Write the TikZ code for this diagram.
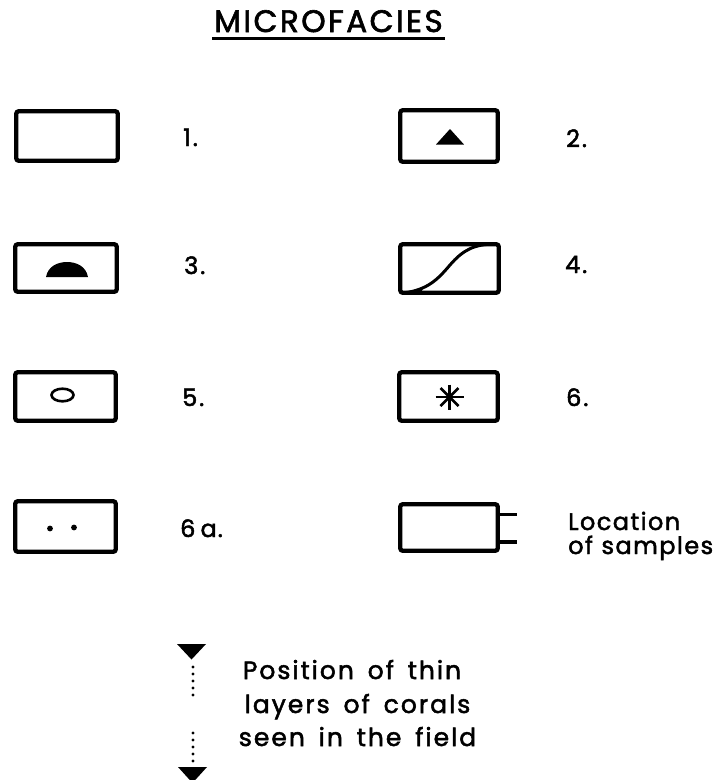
\documentclass[tikz,border=0pt]{standalone}
\usepackage{fontspec}
\setmainfont{Poppins}
\newfontfamily\lettering[LetterSpace=8,WordSpace=1.6,FakeBold=2]{Poppins}
\newfontfamily\letteringtight[LetterSpace=6,WordSpace=1.1,FakeBold=2]{Poppins}
\newfontfamily\letteringnum[LetterSpace=4,WordSpace=0.7,FakeBold=2]{Poppins}
\begin{document}
\begin{tikzpicture}[x=1pt,y=-1pt,
  fbox/.style={draw, line width=4.3pt, rounded corners=2.5pt, minimum width=101pt, minimum height=50pt, inner sep=0pt},
  lab/.style={anchor=base west, inner sep=0pt, font=\lettering\fontsize{24}{28}\selectfont},
  labtight/.style={anchor=base west, inner sep=0pt, font=\letteringtight\fontsize{24}{28}\selectfont},
  labnum/.style={anchor=base west, inner sep=0pt, font=\letteringnum\fontsize{24}{28}\selectfont},
  title/.style={anchor=base, inner sep=0pt, font=\lettering\fontsize{31}{36}\selectfont},
  note/.style={anchor=base, inner sep=0pt, font=\lettering\fontsize{25}{30}\selectfont},
  solidmark/.style={fill=black},
  thinline/.style={line width=2.6pt},
  dotline/.style={line width=3.3pt, line cap=round, dash pattern=on 0pt off 7pt},
]
\clip (0,0) rectangle (715,780);
\fill[white] (0,0) rectangle (715,780);

% title
\node[title] (ttl) at (328.5,32) {MICROFACIES};
\draw[line width=3.2pt] (212,38.5) -- (445,38.5);

% row 1
\node[fbox, minimum width=101.5pt, minimum height=49.5pt] (b1) at (67,136) {};
\node[lab] (l1) at (183,146) {1.};
\node[fbox, minimum width=97.5pt, minimum height=51.5pt] (b2) at (449,136) {};
\fill[solidmark] (436,144.5) -- (450,129) -- (464,144.5) -- cycle;
\node[lab] (l2) at (566,147) {2.};

% row 2
\node[fbox, minimum width=101.5pt, minimum height=47.5pt] (b3) at (66,268) {};
\fill[solidmark] (46,277) .. controls (48,266) and (58,262) .. (67,262) .. controls (76,262) and (86,266) .. (88,277) -- cycle;
\node[lab] (l3) at (184,274) {3.};
\node[fbox, minimum width=98.5pt, minimum height=48.5pt] (b4) at (449.5,268.5) {};
\fill[solidmark] (400,293) .. controls (410,293) and (418,290) .. (424,286) -- (421,293) -- cycle;
\draw[line width=3pt] (403,293) .. controls (428,290) and (438,279) .. (450,265) .. controls (463,250) and (474,244) .. (496,244);
\node[lab] (l4) at (565,273) {4.};

% row 3
\node[fbox, minimum width=100.5pt, minimum height=48.5pt] (b5) at (65.5,396.5) {};
\draw[line width=2.6pt] (62.5,395) ellipse [x radius=11pt, y radius=6.3pt];
\node[lab] (l5) at (182,406) {5.};
\node[fbox, minimum width=98.5pt, minimum height=48.5pt] (b6) at (448.5,396.5) {};
\draw[thinline] (435.5,397) -- (463.5,397);
\draw[thinline] (449.5,384.5) -- (449.5,409.5);
\draw[thinline] (440.5,388) -- (458.5,406);
\draw[thinline] (440.5,406) -- (458.5,388);
\node[lab] (l6) at (566,406) {6.};

% row 4
\node[fbox, minimum width=100.5pt, minimum height=50.5pt] (b7) at (65.5,526.5) {};
\fill (50,528.5) circle (2.9pt);
\fill (74,527.5) circle (2.9pt);
\node[labnum] (l7) at (180,537) {6 a.};
\node[fbox, minimum width=97.5pt, minimum height=46.5pt] (b8) at (449,527.5) {};
\coordinate (tabA) at (517,514.5);
\coordinate (tabB) at (517,542);
\draw[line width=3.4pt] (b8.east |- tabA) -- (tabA);
\draw[line width=3.4pt] (b8.east |- tabB) -- (tabB);
\node[labtight] (loc1) at (568,530) {Location};
\node[labtight] (loc2) at (568,554) {of samples};

% bottom legend
\fill[solidmark] (177,644) -- (206,644) -- (191.5,659.5) -- cycle;
\coordinate (d1s) at (193,667);
\coordinate (d1e) at (193,696);
\draw[dotline] (d1s) -- (d1e);
\coordinate (d2s) at (193,733);
\coordinate (d2e) at (193,762);
\draw[dotline] (d2s) -- (d2e);
\fill[solidmark] (178,767) -- (207,767) -- (192.5,783) -- cycle;
\node[note] (n1) at (352,679) {Position of thin};
\node[note] (n2) at (357.5,713) {layers of corals};
\node[note] (n3) at (357.5,746) {seen in the field};
\end{tikzpicture}
\end{document}
